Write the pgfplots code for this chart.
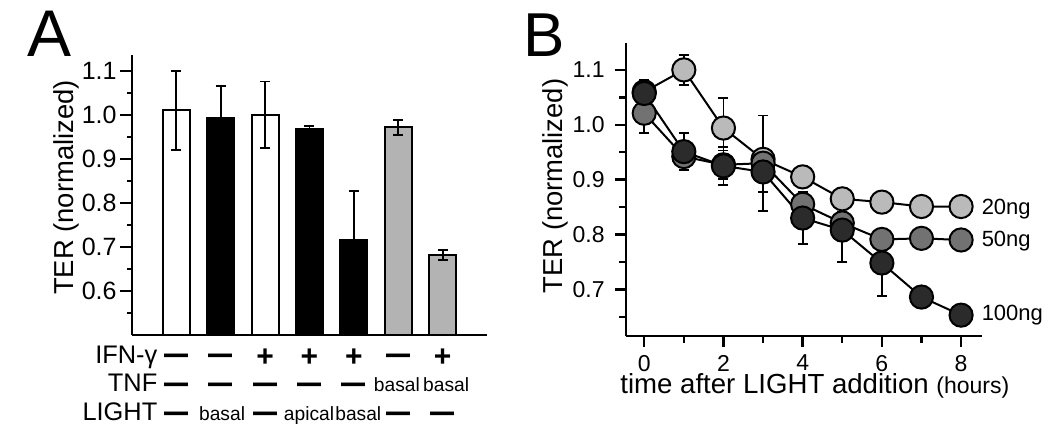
\documentclass[border=0pt]{standalone}
\usepackage{fontspec}
\setmainfont{Liberation Sans}
\usepackage{graphicx}
\usepackage{pgfplots}
\pgfplotsset{compat=1.18}
\definecolor{barg}{HTML}{B3B3B3}
\definecolor{c20}{HTML}{BABABA}
\definecolor{c50}{HTML}{727272}
\definecolor{c100}{HTML}{2B2B2B}
\newcommand{\fs}[1]{\fontsize{#1}{#1}\selectfont}
\newcommand{\dsh}{\raisebox{-1.4pt}{\scalebox{1}[1.5]{\fs{12}\bfseries —}}}
\newcommand{\pls}{{\fs{15}\bfseries +}}
\begin{document}
\begin{tikzpicture}[x=1pt,y=1pt]
\path[use as bounding box] (0,0) rectangle (525,214.5);
% panel letters
\node[anchor=base west, inner sep=0pt, font=\fs{33}] at (13.5,186) {A};
\node[anchor=base west, inner sep=0pt, font=\fs{31}] at (261.3,186) {B};
% y labels
\node[rotate=90, inner sep=0pt, font=\fs{13.7}] at (33,120.75) {TER (normalized)};
\node[rotate=90, inner sep=0pt, font=\fs{13.7}] at (277.5,121.5) {TER (normalized)};
% x label B
\node[anchor=base west, inner sep=0pt, font=\fs{13.8}] at (310,17.6) {time after LIGHT addition {\fs{11.5}(hours)}};

\begin{axis}[
  at={(66pt,47pt)}, anchor=south west,
  scale only axis, width=177.5pt, height=140pt,
  xmin=-1, xmax=7, ymin=0.5, ymax=1.136,
  axis x line*=bottom, axis y line*=left,
  axis line style={line width=1.2pt, -},
  xtick=\empty,
  ytick={0.6,0.7,0.8,0.9,1.0,1.1},
  minor ytick={0.55,0.65,0.75,0.85,0.95,1.05},
  tick align=outside, major tick length=6pt, minor tick length=2.5pt,
  every tick/.style={line width=1.2pt, black},
  /pgf/number format/assume math mode=true,
  yticklabel={\fs{12.5}\pgfmathprintnumber[fixed,fixed zerofill,precision=1]{\tick}},
  yticklabel style={inner sep=0pt, xshift=-1.5pt},
  clip mode=individual,
  every axis plot/.append style={ybar, bar width=13.5pt, bar shift=0pt, line width=1pt, draw=black,
    error bars/y dir=both, error bars/y explicit,
    error bars/error bar style={line width=0.9pt, black},
    error bars/error mark options={rotate=90, mark size=2.5pt, line width=0.9pt, black}},
]
\addplot[fill=white] coordinates {(0,1.010) +- (0,0.090) (2,1.000) +- (0,0.076)};
\addplot[fill=black] coordinates {(1,0.992) +- (0,0.074) (3,0.967) +- (0,0.008) (4,0.716) +- (0,0.111)};
\addplot[fill=barg] coordinates {(5,0.972) +- (0,0.017) (6,0.682) +- (0,0.011)};
% condition table
\node[anchor=base east, inner sep=0pt, font=\fs{12.7}] at (axis cs:-0.42,0.5) [yshift=-14pt] {IFN-γ};
\node[anchor=base east, inner sep=0pt, font=\fs{12.7}] at (axis cs:-0.42,0.5) [yshift=-28.3pt] {TNF};
\node[anchor=base east, inner sep=0pt, font=\fs{12.7}] at (axis cs:-0.42,0.5) [yshift=-42.8pt] {LIGHT};
% IFN row
\node[anchor=base, inner sep=0pt] at (axis cs:0,0.5) [yshift=-14pt] {\dsh};
\node[anchor=base, inner sep=0pt] at (axis cs:1,0.5) [yshift=-14pt] {\dsh};
\node[anchor=base, inner sep=0pt] at (axis cs:2,0.5) [yshift=-15.6pt] {\pls};
\node[anchor=base, inner sep=0pt] at (axis cs:3,0.5) [yshift=-15.6pt] {\pls};
\node[anchor=base, inner sep=0pt] at (axis cs:4,0.5) [yshift=-15.6pt] {\pls};
\node[anchor=base, inner sep=0pt] at (axis cs:5,0.5) [yshift=-14pt] {\dsh};
\node[anchor=base, inner sep=0pt] at (axis cs:6,0.5) [yshift=-15.6pt] {\pls};
% TNF row
\node[anchor=base, inner sep=0pt] at (axis cs:0,0.5) [yshift=-28.3pt] {\dsh};
\node[anchor=base, inner sep=0pt] at (axis cs:1,0.5) [yshift=-28.3pt] {\dsh};
\node[anchor=base, inner sep=0pt] at (axis cs:2,0.5) [yshift=-28.3pt] {\dsh};
\node[anchor=base, inner sep=0pt] at (axis cs:3,0.5) [yshift=-28.3pt] {\dsh};
\node[anchor=base, inner sep=0pt] at (axis cs:4,0.5) [yshift=-28.3pt] {\dsh};
\node[anchor=base, inner sep=0pt, font=\fs{9.6}] at (axis cs:4.97,0.5) [yshift=-28.3pt] {basal};
\node[anchor=base, inner sep=0pt, font=\fs{9.6}] at (axis cs:6.08,0.5) [yshift=-28.3pt] {basal};
% LIGHT row
\node[anchor=base, inner sep=0pt] at (axis cs:0,0.5) [yshift=-42.8pt] {\dsh};
\node[anchor=base, inner sep=0pt, font=\fs{9.6}] at (axis cs:1.03,0.5) [yshift=-42.8pt] {basal};
\node[anchor=base, inner sep=0pt] at (axis cs:2,0.5) [yshift=-42.8pt] {\dsh};
\node[anchor=base, inner sep=0pt, font=\fs{9.6}] at (axis cs:2.99,0.5) [yshift=-42.8pt] {apical};
\node[anchor=base, inner sep=0pt, font=\fs{9.6}] at (axis cs:4.1,0.5) [yshift=-42.8pt] {basal};
\node[anchor=base, inner sep=0pt] at (axis cs:5,0.5) [yshift=-42.8pt] {\dsh};
\node[anchor=base, inner sep=0pt] at (axis cs:6,0.5) [yshift=-42.8pt] {\dsh};
\end{axis}

\begin{axis}[
  at={(313pt,46.5pt)}, anchor=south west,
  scale only axis, width=177.85pt, height=146.5pt,
  xmin=-0.46, xmax=8.52, ymin=0.615, ymax=1.149,
  axis x line*=bottom, axis y line*=left,
  axis line style={line width=1.2pt, -},
  xtick={0,2,4,6,8}, minor xtick={1,3,5,7},
  ytick={0.7,0.8,0.9,1.0,1.1},
  minor ytick={0.65,0.75,0.85,0.95,1.05},
  tick align=outside, major tick length=5.5pt, minor tick length=3.5pt,
  every tick/.style={line width=1.2pt, black},
  /pgf/number format/assume math mode=true,
  yticklabel={\fs{11.5}\pgfmathprintnumber[fixed,fixed zerofill,precision=1]{\tick}},
  xticklabel={\fs{11.5}\pgfmathprintnumber{\tick}},
  yticklabel style={inner sep=0pt, xshift=-5pt},
  xticklabel style={inner sep=0pt, yshift=-3.8pt},
  clip=false,
  every axis plot/.append style={line width=1pt, black, mark=*,
    error bars/y dir=both, error bars/y explicit,
    error bars/error bar style={line width=0.9pt, black},
    error bars/error mark options={rotate=90, mark size=2.5pt, line width=0.9pt, black}},
]
\addplot[mark options={fill=c20, draw=black, line width=1pt, mark size=5.8pt}] coordinates {
 (0,1.060) +- (0,0) (1,1.100) +- (0,0.027) (2,0.994) +- (0,0.055) (3,0.937) +- (0,0)
 (4,0.905) +- (0,0) (5,0.865) +- (0,0) (6,0.859) +- (0,0) (7,0.851) +- (0,0) (8,0.851) +- (0,0)}
 node[pos=1, anchor=west, xshift=6.5pt, yshift=-1.5pt, font=\fs{11}] {20ng};
\addplot[mark options={fill=c50, draw=black, line width=1pt, mark size=5.8pt}] coordinates {
 (0,1.021) +- (0,0.036) (1,0.942) +- (0,0.020) (2,0.927) +- (0,0.026) (3,0.930) +- (0,0.087)
 (4,0.855) +- (0,0.020) (5,0.821) +- (0,0.020) (6,0.791) +- (0,0.015) (7,0.793) +- (0,0) (8,0.790) +- (0,0)}
 node[pos=1, anchor=west, xshift=6.5pt, yshift=-0.5pt, font=\fs{11}] {50ng};
\addplot[mark options={fill=c100, draw=black, line width=1pt, mark size=5.8pt}] coordinates {
 (0,1.057) +- (0,0.024) (1,0.951) +- (0,0.034) (2,0.925) +- (0,0.035) (3,0.914) +- (0,0.037)
 (4,0.830) +- (0,0.048) (5,0.808) +- (0,0.058) (6,0.748) +- (0,0.060) (7,0.686) +- (0,0) (8,0.653) +- (0,0)}
 node[pos=1, anchor=west, xshift=6.5pt, font=\fs{11}] {100ng};
\end{axis}
\end{tikzpicture}
\end{document}
